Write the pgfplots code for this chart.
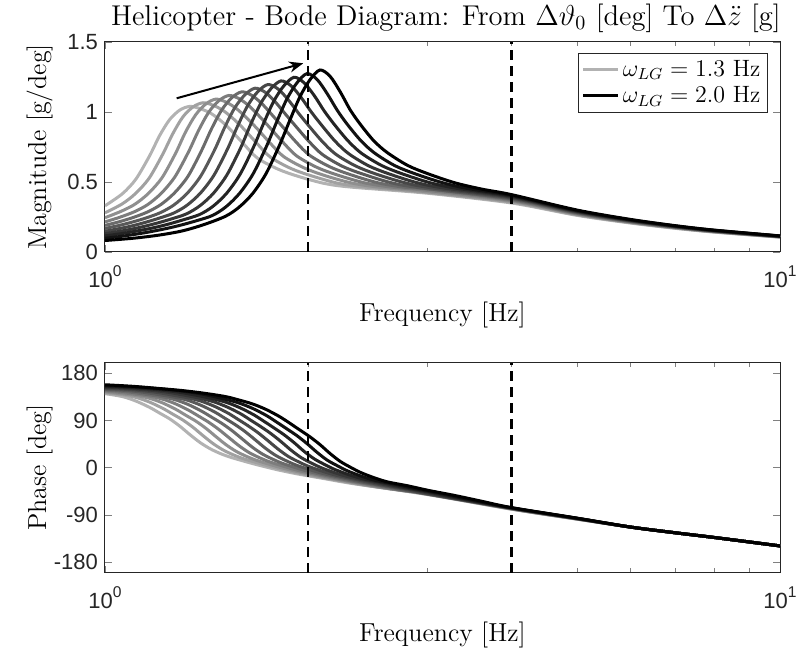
\documentclass[border=0pt]{standalone}
\usepackage{fontspec}
\usepackage{pgfplots}
\pgfplotsset{compat=1.18}
\usepackage{pgfplotstable}
\usetikzlibrary{arrows.meta}
\newfontfamily\tickfont{Liberation Sans}
\newcommand{\tf}{\tickfont\fontsize{11}{13}\selectfont}
\newcommand{\decade}[1]{10\raisebox{0.5em}{\fontsize{7.8}{8}\selectfont #1}}

% columns: frequency [Hz], magnitude [g/deg], phase [deg]
\pgfplotstableread{
f m p
1.000 0.330 141.0
1.061 0.416 135.5
1.111 0.520 127.0
1.164 0.686 115.0
1.205 0.832 104.0
1.247 0.946 93.0
1.291 1.014 79.0
1.336 1.040 63.0
1.383 1.024 48.0
1.432 0.993 36.0
1.482 0.941 27.0
1.534 0.874 20.0
1.606 0.770 12.5
1.682 0.671 5.5
1.802 0.593 -4.0
1.931 0.541 -12.0
2.117 0.489 -21.0
2.322 0.463 -30.0
3.000 0.420 -51.0
4.000 0.350 -79.0
5.000 0.262 -98.0
6.000 0.207 -113.0
7.000 0.169 -124.0
8.000 0.142 -133.0
10.00 0.106 -149.0
}\tA
\pgfplotstableread{
f m p
1.000 0.280 142.7
1.060 0.343 138.9
1.110 0.418 134.1
1.162 0.526 125.4
1.217 0.696 113.3
1.260 0.844 102.1
1.304 0.964 90.9
1.350 1.036 77.0
1.397 1.066 61.1
1.446 1.048 45.9
1.497 1.010 33.6
1.550 0.951 24.4
1.604 0.881 17.1
1.680 0.775 9.4
1.759 0.677 2.3
1.885 0.597 -7.1
2.019 0.545 -15.1
2.214 0.491 -24.2
2.428 0.464 -33.4
3.000 0.425 -50.5
4.000 0.356 -78.7
5.000 0.266 -97.8
6.000 0.210 -113.0
7.000 0.171 -124.0
8.000 0.143 -133.0
10.00 0.107 -149.0
}\tB
\pgfplotstableread{
f m p
1.000 0.245 144.4
1.058 0.292 140.7
1.108 0.342 137.8
1.160 0.419 132.7
1.215 0.531 123.8
1.272 0.704 111.5
1.316 0.856 100.2
1.363 0.981 88.8
1.411 1.058 75.0
1.460 1.092 59.2
1.511 1.071 43.8
1.564 1.026 31.2
1.619 0.961 21.8
1.676 0.887 14.2
1.755 0.780 6.2
1.838 0.683 -1.0
1.970 0.602 -10.1
2.110 0.548 -18.2
2.314 0.494 -27.4
2.537 0.464 -36.8
3.000 0.430 -50.0
4.000 0.362 -78.4
5.000 0.270 -97.6
6.000 0.212 -113.0
7.000 0.173 -124.0
8.000 0.145 -133.0
10.00 0.108 -149.0
}\tC
\pgfplotstableread{
f m p
1.000 0.215 146.1
1.050 0.247 143.5
1.106 0.288 140.1
1.158 0.340 136.7
1.212 0.420 131.3
1.269 0.536 122.2
1.329 0.713 109.8
1.376 0.868 98.3
1.424 0.997 86.7
1.474 1.080 73.0
1.526 1.118 57.3
1.580 1.095 41.7
1.635 1.043 28.8
1.693 0.970 19.2
1.752 0.892 11.3
1.835 0.784 3.1
1.921 0.688 -4.3
2.059 0.605 -13.2
2.206 0.551 -21.3
2.419 0.495 -30.6
2.652 0.464 -40.2
3.000 0.440 -49.0
4.000 0.368 -78.1
5.000 0.273 -97.4
6.000 0.215 -113.0
7.000 0.175 -124.0
8.000 0.146 -133.0
10.00 0.109 -149.0
}\tD
\pgfplotstableread{
f m p
1.000 0.190 147.8
1.050 0.216 146.0
1.100 0.246 143.3
1.155 0.285 139.4
1.210 0.339 135.6
1.267 0.421 129.9
1.327 0.540 120.6
1.389 0.721 108.0
1.438 0.879 96.4
1.489 1.014 84.6
1.541 1.102 71.0
1.595 1.144 55.4
1.651 1.118 39.6
1.709 1.058 26.4
1.769 0.978 16.6
1.831 0.897 8.4
1.918 0.787 -0.1
2.008 0.692 -7.5
2.152 0.609 -16.2
2.305 0.554 -24.4
2.528 0.496 -33.8
2.772 0.463 -43.6
3.000 0.450 -48.0
4.000 0.374 -77.8
5.000 0.277 -97.2
6.000 0.217 -113.0
7.000 0.177 -124.0
8.000 0.148 -133.0
10.00 0.110 -149.0
}\tE
\pgfplotstableread{
f m p
1.000 0.168 149.5
1.050 0.190 148.0
1.100 0.215 146.0
1.150 0.243 143.0
1.208 0.281 138.8
1.265 0.336 134.5
1.325 0.421 128.5
1.387 0.544 119.0
1.453 0.728 106.3
1.504 0.889 94.5
1.557 1.030 82.5
1.612 1.123 69.0
1.668 1.170 53.5
1.727 1.141 37.5
1.787 1.073 24.0
1.850 0.986 14.0
1.915 0.901 5.5
2.005 0.790 -3.3
2.100 0.696 -10.8
2.250 0.611 -19.3
2.411 0.556 -27.5
2.644 0.497 -37.0
2.899 0.462 -47.0
4.000 0.380 -77.5
5.000 0.281 -97.0
6.000 0.220 -113.0
7.000 0.179 -124.0
8.000 0.149 -133.0
10.00 0.111 -149.0
}\tF
\pgfplotstableread{
f m p
1.000 0.148 151.2
1.050 0.167 150.0
1.100 0.188 148.3
1.150 0.213 146.0
1.200 0.240 143.0
1.263 0.277 138.1
1.323 0.334 133.4
1.385 0.421 127.1
1.450 0.548 117.4
1.519 0.736 104.5
1.572 0.899 92.6
1.627 1.045 80.4
1.684 1.145 67.0
1.743 1.196 51.6
1.805 1.164 35.4
1.868 1.088 21.6
1.934 0.993 11.4
2.002 0.904 2.6
2.096 0.792 -6.4
2.195 0.700 -14.0
2.352 0.614 -22.3
2.520 0.557 -30.6
2.763 0.498 -40.2
3.030 0.460 -50.4
4.000 0.386 -77.2
5.000 0.285 -96.8
6.000 0.223 -113.0
7.000 0.180 -124.0
8.000 0.150 -133.0
10.00 0.111 -149.0
}\tG
\pgfplotstableread{
f m p
1.000 0.131 152.9
1.050 0.147 151.8
1.100 0.165 150.3
1.150 0.186 148.4
1.200 0.209 146.0
1.250 0.234 143.0
1.320 0.272 137.5
1.383 0.331 132.3
1.448 0.420 125.7
1.516 0.551 115.8
1.588 0.742 102.8
1.643 0.909 90.7
1.701 1.061 78.3
1.761 1.166 65.0
1.823 1.222 49.7
1.887 1.187 33.3
1.953 1.103 19.2
2.022 0.999 8.8
2.093 0.907 -0.3
2.191 0.793 -9.6
2.295 0.703 -17.3
2.459 0.615 -25.4
2.635 0.558 -33.7
2.889 0.497 -43.4
3.168 0.458 -53.8
4.000 0.392 -76.9
5.000 0.289 -96.6
6.000 0.225 -113.0
7.000 0.182 -124.0
8.000 0.152 -133.0
10.00 0.112 -149.0
}\tH
\pgfplotstableread{
f m p
1.000 0.115 154.6
1.050 0.129 153.6
1.100 0.145 152.3
1.150 0.162 150.6
1.200 0.181 148.5
1.250 0.203 146.0
1.300 0.227 143.0
1.380 0.267 136.8
1.446 0.327 131.2
1.514 0.419 124.3
1.585 0.554 114.2
1.660 0.749 101.0
1.718 0.919 88.8
1.778 1.076 76.2
1.841 1.187 63.0
1.906 1.248 47.8
1.972 1.209 31.2
2.042 1.117 16.8
2.114 1.005 6.2
2.188 0.909 -3.2
2.291 0.794 -12.7
2.399 0.705 -20.5
2.571 0.617 -28.4
2.754 0.559 -36.8
3.020 0.497 -46.6
3.311 0.456 -57.2
4.000 0.398 -76.6
5.000 0.292 -96.4
6.000 0.228 -113.0
7.000 0.184 -124.0
8.000 0.153 -133.0
10.00 0.113 -149.0
}\tI
\pgfplotstableread{
f m p
1.000 0.098 156.3
1.050 0.110 155.3
1.100 0.124 154.0
1.150 0.139 152.4
1.200 0.156 150.5
1.250 0.174 148.4
1.300 0.194 146.0
1.370 0.225 142.0
1.443 0.261 136.2
1.511 0.323 130.1
1.582 0.418 122.9
1.657 0.557 112.6
1.735 0.755 99.3
1.796 0.928 86.9
1.859 1.091 74.1
1.925 1.208 61.0
1.992 1.274 45.9
2.062 1.232 29.1
2.134 1.131 14.4
2.210 1.010 3.6
2.287 0.910 -6.1
2.395 0.794 -15.9
2.508 0.707 -23.8
2.687 0.617 -31.5
2.879 0.559 -39.9
3.157 0.496 -49.8
3.462 0.452 -60.6
4.000 0.404 -76.3
5.000 0.296 -96.2
6.000 0.230 -113.0
7.000 0.186 -124.0
8.000 0.155 -133.0
10.00 0.114 -149.0
}\tJ
\pgfplotstableread{
f m p
1.000 0.082 158.0
1.100 0.098 155.0
1.200 0.120 151.0
1.300 0.150 147.0
1.400 0.195 142.0
1.508 0.255 135.5
1.579 0.319 129.0
1.654 0.416 121.5
1.732 0.559 111.0
1.813 0.761 97.5
1.877 0.936 85.0
1.943 1.105 72.0
2.011 1.229 59.0
2.082 1.300 44.0
2.155 1.255 27.0
2.231 1.144 12.0
2.309 1.014 1.0
2.391 0.910 -9.0
2.503 0.793 -19.0
2.621 0.709 -27.0
2.809 0.618 -34.5
3.009 0.559 -43.0
3.300 0.494 -53.0
3.618 0.449 -64.0
4.000 0.410 -76.0
5.000 0.300 -96.0
6.000 0.233 -113.0
7.000 0.188 -124.0
8.000 0.156 -133.0
10.00 0.115 -149.0
}\tK

\begin{document}
\begin{tikzpicture}
\useasboundingbox (-52.5pt,-199.5pt) rectangle (346pt,126pt);

\begin{axis}[at={(0pt,0pt)}, anchor=south west,
  width=337.5pt, height=105pt, scale only axis,
  xmode=log, xmin=1, xmax=10,
  xtick={1,10}, xticklabels={\decade{0},\decade{1}},
  minor xtick={2,3,4,5,6,7,8,9},
  tick align=inside, tick pos=both,
  major tick length=3.5pt, minor tick length=2.2pt,
  axis line style={black!85, line width=0.5pt},
  tick label style={font=\tf, text=black!85},
  xticklabel style={yshift=-3.5pt},
  label style={font=\fontsize{13}{15}\selectfont},
  xlabel={Frequency [Hz]},
  xlabel style={at={(axis description cs:0.5,-0.235)}, anchor=north, inner sep=0pt},
  ylabel style={at={(axis description cs:-0.077,0.5)}, anchor=south, inner sep=0pt},
  ymin=0, ymax=1.5, ytick={0,0.5,1,1.5}, yticklabels={0,0.5,1,1.5},
  ylabel={Magnitude [g/deg]},
  title={Helicopter - Bode Diagram: From $\Delta\vartheta_0$ [deg] To $\Delta\ddot{z}$ [g]},
  every axis title shift=0pt,
  title style={font=\fontsize{14.3}{16}\selectfont, at={(axis description cs:0.505,1)}, anchor=south, yshift=4.5pt, inner sep=0pt},
  legend style={at={(axis description cs:0.982,0.949)}, anchor=north east, draw=black!85, line width=0.5pt,
    font=\fontsize{11.8}{13.5}\selectfont, inner sep=1.5pt, row sep=-0.5pt, fill=white},
  legend cell align=left,
]
\addplot[line width=1.5pt, smooth, color=black!30] table[x=f,y=m]{\tA};
\addlegendentry{$\omega_{LG} = 1.3$ Hz}
\addplot[line width=1.5pt, smooth, color=black!37, forget plot] table[x=f,y=m]{\tB};
\addplot[line width=1.5pt, smooth, color=black!44, forget plot] table[x=f,y=m]{\tC};
\addplot[line width=1.5pt, smooth, color=black!51, forget plot] table[x=f,y=m]{\tD};
\addplot[line width=1.5pt, smooth, color=black!58, forget plot] table[x=f,y=m]{\tE};
\addplot[line width=1.5pt, smooth, color=black!65, forget plot] table[x=f,y=m]{\tF};
\addplot[line width=1.5pt, smooth, color=black!72, forget plot] table[x=f,y=m]{\tG};
\addplot[line width=1.5pt, smooth, color=black!79, forget plot] table[x=f,y=m]{\tH};
\addplot[line width=1.5pt, smooth, color=black!86, forget plot] table[x=f,y=m]{\tI};
\addplot[line width=1.5pt, smooth, color=black!93, forget plot] table[x=f,y=m]{\tJ};
\addplot[line width=1.5pt, smooth, color=black] table[x=f,y=m]{\tK};
\addlegendentry{$\omega_{LG} = 2.0$ Hz}
\addplot[black, line width=1.3pt, dash pattern=on 5pt off 3pt, forget plot] coordinates {(2,0) (2,1.5)};
\addplot[black, line width=1.3pt, dash pattern=on 5pt off 3pt, forget plot] coordinates {(4,0) (4,1.5)};
\draw[-{Stealth[length=7pt,width=5.5pt]}, line width=1pt] (axis cs:1.277,1.098) -- (axis cs:1.967,1.348);
\end{axis}

\begin{axis}[at={(0pt,-160.35pt)}, anchor=south west,
  width=337.5pt, height=105pt, scale only axis,
  xmode=log, xmin=1, xmax=10,
  xtick={1,10}, xticklabels={\decade{0},\decade{1}},
  minor xtick={2,3,4,5,6,7,8,9},
  tick align=inside, tick pos=both,
  major tick length=3.5pt, minor tick length=2.2pt,
  axis line style={black!85, line width=0.5pt},
  tick label style={font=\tf, text=black!85},
  xticklabel style={yshift=-3.5pt},
  label style={font=\fontsize{13}{15}\selectfont},
  xlabel={Frequency [Hz]},
  xlabel style={at={(axis description cs:0.5,-0.235)}, anchor=north, inner sep=0pt},
  ylabel style={at={(axis description cs:-0.077,0.5)}, anchor=south, inner sep=0pt},
  ymin=-200, ymax=200, ytick={-180,-90,0,90,180}, yticklabels={-180,-90,0,90,180},
  ylabel={Phase [deg]},
]
\addplot[line width=1.5pt, smooth, color=black!30] table[x=f,y=p]{\tA};
\addplot[line width=1.5pt, smooth, color=black!37] table[x=f,y=p]{\tB};
\addplot[line width=1.5pt, smooth, color=black!44] table[x=f,y=p]{\tC};
\addplot[line width=1.5pt, smooth, color=black!51] table[x=f,y=p]{\tD};
\addplot[line width=1.5pt, smooth, color=black!58] table[x=f,y=p]{\tE};
\addplot[line width=1.5pt, smooth, color=black!65] table[x=f,y=p]{\tF};
\addplot[line width=1.5pt, smooth, color=black!72] table[x=f,y=p]{\tG};
\addplot[line width=1.5pt, smooth, color=black!79] table[x=f,y=p]{\tH};
\addplot[line width=1.5pt, smooth, color=black!86] table[x=f,y=p]{\tI};
\addplot[line width=1.5pt, smooth, color=black!93] table[x=f,y=p]{\tJ};
\addplot[line width=1.5pt, smooth, color=black] table[x=f,y=p]{\tK};
\addplot[black, line width=1.3pt, dash pattern=on 5pt off 3pt] coordinates {(2,-200) (2,200)};
\addplot[black, line width=1.3pt, dash pattern=on 5pt off 3pt] coordinates {(4,-200) (4,200)};
\end{axis}
\end{tikzpicture}
\end{document}
